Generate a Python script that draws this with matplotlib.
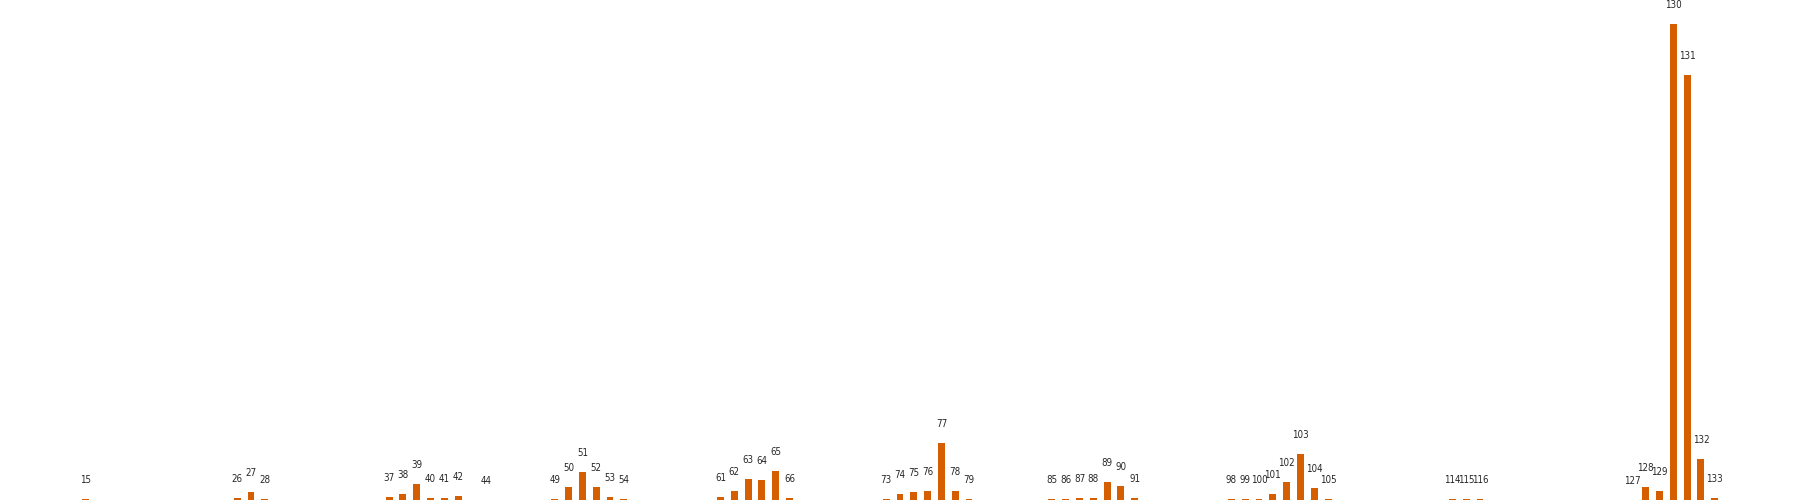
import matplotlib
matplotlib.use("Agg")
import matplotlib.pyplot as plt

# bin positions that have an entry, and their heights
positions = [15, 26, 27, 28, 37, 38, 39, 40, 41, 42, 44,
             49, 50, 51, 52, 53, 54, 61, 62, 63, 64, 65, 66,
             73, 74, 75, 76, 77, 78, 79, 85, 86, 87, 88, 89, 90, 91,
             98, 99, 100, 101, 102, 103, 104, 105, 114, 115, 116,
             127, 128, 129, 130, 131, 132, 133]
heights = [1, 2, 8, 1, 3, 6, 16, 2, 2, 4, 0.3,
           1, 13, 28, 13, 3, 1, 3, 9, 21, 20, 29, 2,
           1, 6, 8, 9, 57, 9, 1, 1, 1, 2, 2, 18, 14, 2,
           1, 1, 1, 6, 18, 46, 12, 1, 1, 1, 1,
           0.3, 13, 9, 476, 425, 41, 2]
labels = [str(p) for p in positions]

fig = plt.figure(figsize=(18, 5), dpi=100)
ax = fig.add_axes([0, 0, 1, 1])
bars = ax.bar(positions, heights, width=0.5, color="#d55e00")

for b, lab in zip(bars, labels):
    ax.annotate(lab, (b.get_x() + b.get_width() / 2, b.get_height()),
                xytext=(0, 13.5), textcoords="offset points",
                ha="center", va="center", fontsize=7,
                fontstretch="condensed", color="#262626")

ax.axis("off")
fig.savefig("out.png", dpi=100)
